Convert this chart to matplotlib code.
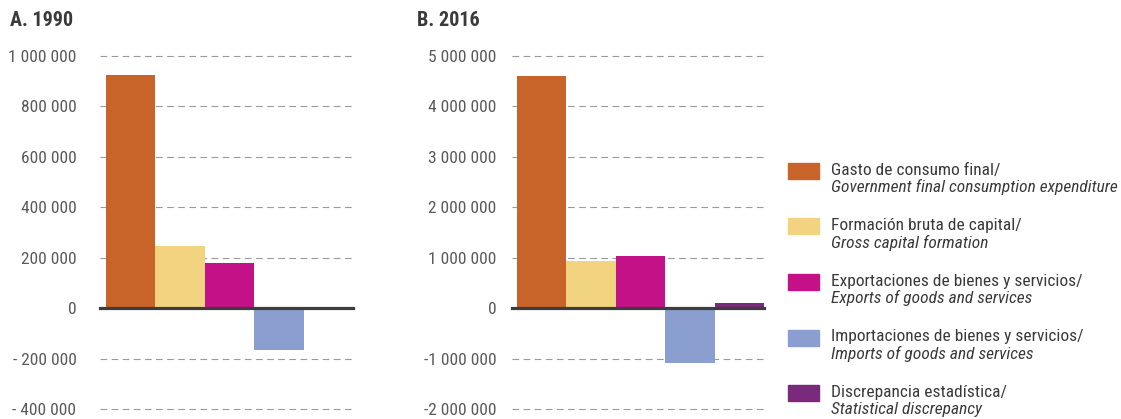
import matplotlib
matplotlib.use("Agg")
import matplotlib.pyplot as plt
from matplotlib.patches import Rectangle
from matplotlib.ticker import FuncFormatter

plt.rcParams['font.family'] = ['Roboto Condensed', 'IBM Plex Sans Condensed', 'DejaVu Sans']

# data
labels_es = ["Gasto de consumo final/", "Formación bruta de capital/",
             "Exportaciones de bienes y servicios/", "Importaciones de bienes y servicios/",
             "Discrepancia estadística/"]
labels_en = ["Government final consumption expenditure", "Gross capital formation",
             "Exports of goods and services", "Imports of goods and services",
             "Statistical discrepancy"]
colors = ["#C8632A", "#F2D380", "#C41187", "#8B9ED0", "#7A2A7C"]

values_1990 = [925000, 246000, 180000, -167000, -9000]
values_2016 = [4600000, 930000, 1030000, -1090000, 100000]

ticks_1990 = [-400000, -200000, 0, 200000, 400000, 600000, 800000, 1000000]
ticks_2016 = [-2000000, -1000000, 0, 1000000, 2000000, 3000000, 4000000, 5000000]

W, H = 1121, 419
fig = plt.figure(figsize=(W / 100, H / 100), dpi=100)


def fmt(neg_space):
    def f(v, pos):
        s = "{:,.0f}".format(abs(v)).replace(",", " ")
        if v < 0:
            s = ("- " if neg_space else "-") + s
        return s
    return f


def panel(left_px, right_px, bar_start_px, values, ticks, title, title_x, neg_space, pad):
    ax = fig.add_axes([left_px / W, (H - 409) / H, (right_px - left_px) / W, (409 - 56) / H])
    bw = (right_px - bar_start_px) / 5.0
    x0 = -0.5 - (bar_start_px - left_px) / bw
    for i, v in enumerate(values):
        ax.bar(i, v, width=1.0, color=colors[i], zorder=2)
    ax.set_xlim(x0, 4.5)
    ax.set_ylim(ticks[0], ticks[-1])
    ax.set_yticks(ticks)
    ax.yaxis.set_major_formatter(FuncFormatter(fmt(neg_space)))
    ax.set_xticks([])
    for s in ax.spines.values():
        s.set_visible(False)
    ax.tick_params(axis='y', length=0, pad=pad, labelsize=12.5, labelcolor="#5a5a5a")
    for t in ticks:
        if t != 0:
            ax.axhline(t, color="#9a9a9a", lw=0.8, linestyle=(0, (6, 4)), zorder=1, clip_on=False)
    ax.axhline(0, color="#3d3d3d", lw=2.3, zorder=3, clip_on=False)
    fig.text(title_x / W, 1 - 20 / H, title, fontsize=14.5, fontweight='bold',
             color="#3a3a3a", va='center', ha='left')
    return ax


panel(100, 353, 106, values_1990, ticks_1990, "A. 1990", 10, True, 17)
panel(512, 764, 517, values_2016, ticks_2016, "B. 2016", 417, False, 11)

# legend
y0 = 171
step = 55.5
for i in range(5):
    yc = y0 + i * step
    fig.patches.append(Rectangle((788 / W, 1 - (yc + 8) / H), 31 / W, 16 / H,
                                 transform=fig.transFigure, color=colors[i]))
    fig.text(831 / W, 1 - (yc - 1) / H, labels_es[i], fontsize=12.5, color="#3a3a3a",
             va='center', ha='left')
    fig.text(831 / W, 1 - (yc + 16) / H, labels_en[i], fontsize=12.5, color="#3a3a3a",
             va='center', ha='left', style='italic')

fig.savefig("out.png", dpi=100)
